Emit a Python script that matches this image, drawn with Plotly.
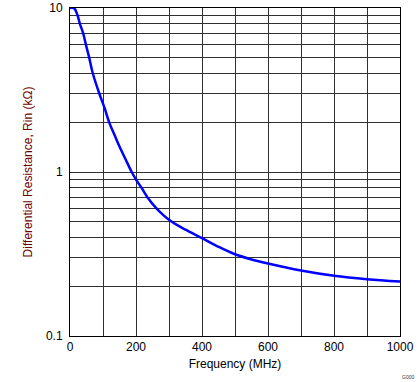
import plotly.graph_objects as go

freq = [0, 10, 15, 23, 30, 40, 48, 58, 69, 89, 105, 119, 135, 150, 168, 187, 200, 217, 235, 262, 282, 302, 325, 350, 400, 450, 500, 545, 600, 700, 800, 900, 1000]
rin = [10, 10, 9.85, 9.0, 8.0, 7.0, 6.0, 5.0, 4.0, 3.0, 2.45, 2.0, 1.68, 1.43, 1.2, 1.0, 0.9, 0.8, 0.7, 0.6, 0.548, 0.508, 0.474, 0.445, 0.395, 0.35, 0.315, 0.295, 0.277, 0.251, 0.233, 0.222, 0.215]

y_ticks = [0.1, 1, 10]
y_labels = ["0.1", "1", "10"]
y_minor = [0.2, 0.3, 0.4, 0.5, 0.6, 0.7, 0.8, 0.9, 2, 3, 4, 5, 6, 7, 8, 9]

fig = go.Figure()
fig.add_trace(go.Scatter(x=freq, y=rin, mode="lines", line=dict(color="#0000FF", width=2.5, shape="spline", smoothing=1.0), showlegend=False))

grid = "#303030"
fig.update_layout(
    width=419, height=382,
    margin=dict(l=70, r=19, t=8, b=46),
    paper_bgcolor="white", plot_bgcolor="white",
    font=dict(family="Liberation Sans, Arial", size=12, color="black"),
    xaxis=dict(range=[0, 1000], tickmode="linear", tick0=0, dtick=200, automargin=False,
               showgrid=True, gridcolor=grid, gridwidth=1,
               minor=dict(tickmode="linear", tick0=0, dtick=100, showgrid=True, gridcolor=grid, gridwidth=1, ticks=""),
               showline=True, linecolor="black", linewidth=1, mirror=True, zeroline=False, ticks="",
               title=dict(text="Frequency (MHz)", standoff=6, font=dict(size=12))),
    yaxis=dict(type="log", range=[-1, 1], tickmode="array", tickvals=y_ticks, ticktext=y_labels, automargin=False,
               showgrid=True, gridcolor=grid, gridwidth=1,
               minor=dict(tickmode="array", tickvals=y_minor, showgrid=True, gridcolor=grid, gridwidth=1, ticks=""),
               showline=True, linecolor="black", linewidth=1, mirror=True, zeroline=False, ticks="",
               ticklabelstandoff=4,
               title=dict(text="Differential Resistance, Rin (kΩ)", standoff=10, font=dict(size=12, color="#6b0000"))),
)
fig.add_annotation(text="G000", xref="paper", yref="paper", x=1.048, y=-0.125, xanchor="right", yanchor="middle",
                   showarrow=False, font=dict(size=5, color="#333333"))
fig.write_html("out.html", config={"displayModeBar": False},
               post_script="document.body.style.margin='0';document.body.style.padding='0';document.body.style.overflow='hidden';")
